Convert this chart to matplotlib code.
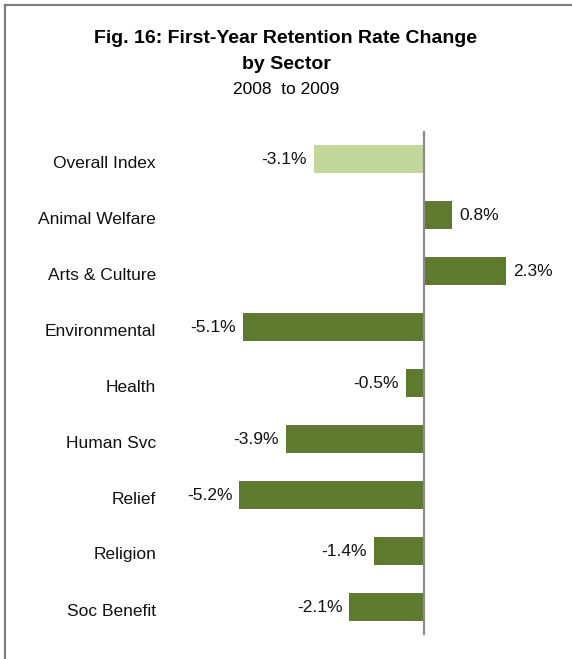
import matplotlib
matplotlib.use("Agg")
import matplotlib.pyplot as plt
from matplotlib.lines import Line2D
from matplotlib.transforms import ScaledTranslation

plt.rcParams["font.family"] = ["Liberation Sans", "DejaVu Sans"]

SECTORS = ["Overall Index", "Animal Welfare", "Arts & Culture", "Environmental",
           "Health", "Human Svc", "Relief", "Religion", "Soc Benefit"]
CHANGE = [-3.1, 0.8, 2.3, -5.1, -0.5, -3.9, -5.2, -1.4, -2.1]
LABELS = ["-3.1%", "0.8%", "2.3%", "-5.1%", "-0.5%", "-3.9%", "-5.2%", "-1.4%", "-2.1%"]

LIGHT = "#C3D69B"
DARK = "#5E7A2E"
W, H = 572, 659

fig = plt.figure(figsize=(W / 100, H / 100), dpi=100)

# axes placed in pixel coords: x 170..560, y 131..635 (from top)
left, right, top, bottom = 170, 560, 131, 635
ax = fig.add_axes([left / W, 1 - bottom / H, (right - left) / W, (bottom - top) / H])

n = len(SECTORS)
ypos = list(range(n))
colors = [LIGHT] + [DARK] * (n - 1)
ax.barh(ypos, CHANGE, height=0.5, color=colors, zorder=2)
ax.set_ylim(n - 0.5, -0.5)
scale = 35.5
ax.set_xlim(-(424 - left) / scale, (right - 424) / scale)
ax.axvline(0, color="#8C8C8C", lw=1.6, zorder=3)

for y, v, lab in zip(ypos, CHANGE, LABELS):
    off = 0.2
    if v < 0:
        ax.text(v - off, y, lab, ha="right", va="center", fontsize=12.5, color="#111111")
    else:
        ax.text(v + off, y, lab, ha="left", va="center", fontsize=12.5, color="#111111")

ax.set_yticks(ypos)
ax.set_yticklabels(SECTORS, fontsize=12.5, color="#111111")
ax.tick_params(axis="y", length=0, pad=10)
shift = ScaledTranslation(0, -2.5 / 100, fig.dpi_scale_trans)
for t in ax.get_yticklabels():
    t.set_transform(t.get_transform() + shift)
ax.set_xticks([])
for s in ax.spines.values():
    s.set_visible(False)

fig.text(0.5, 1 - 43 / H, "Fig. 16: First-Year Retention Rate Change", ha="center",
         va="baseline", fontsize=14, fontweight="bold")
fig.text(0.5, 1 - 69 / H, "by Sector", ha="center", va="baseline", fontsize=14,
         fontweight="bold")
fig.text(0.5, 1 - 94 / H, "2008  to 2009", ha="center", va="baseline", fontsize=12.5)

# outer border (top and left only visible in crop)
fig.add_artist(Line2D([5 / W, 5 / W], [0, 1 - 5 / H], transform=fig.transFigure,
                      color="#7F7F7F", lw=1.6))
fig.add_artist(Line2D([5 / W, 1], [1 - 5 / H, 1 - 5 / H], transform=fig.transFigure,
                      color="#7F7F7F", lw=1.6))

fig.savefig("out.png", dpi=100)
